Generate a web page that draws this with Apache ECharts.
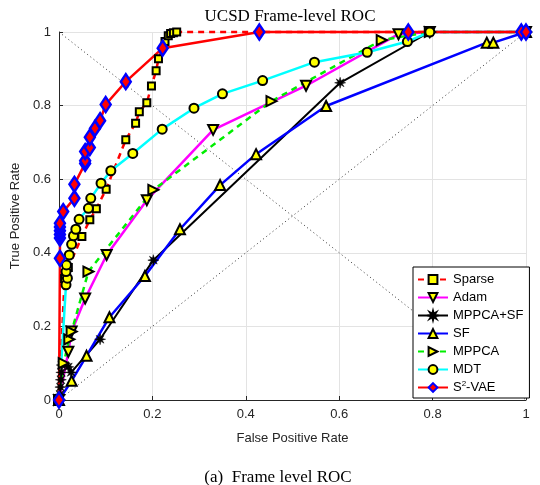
<!DOCTYPE html>
<html><head><meta charset="utf-8">
<script src="https://cdn.jsdelivr.net/npm/echarts@6/dist/echarts.min.js"></script>
<style>html,body{margin:0;padding:0;background:#fff}#c{width:540px;height:485px}</style>
</head><body><div id="c"></div>
<script>
const seriesNames = ['Sparse','Adam','MPPCA+SF','SF','MPPCA','MDT','S2-VAE'];
const xTicks = [0,0.2,0.4,0.6,0.8,1];
const sparse = [[0,0],[0.012,0.33],[0.02,0.36],[0.049,0.444],[0.066,0.49],[0.08,0.52],[0.101,0.573],[0.143,0.707],[0.164,0.752],[0.172,0.783],[0.188,0.808],[0.198,0.853],[0.208,0.895],[0.213,0.927],[0.227,0.974],[0.234,0.99],[0.239,0.996],[0.245,0.998],[0.252,1],[1,1]];
const adam = [[0,0],[0.02,0.131],[0.027,0.186],[0.056,0.276],[0.102,0.394],[0.188,0.543],[0.33,0.734],[0.529,0.854],[0.727,0.994],[0.794,1],[1,1]];
const mppcaSf = [[0,0],[0.002,0.015],[0.003,0.035],[0.004,0.055],[0.005,0.075],[0.006,0.095],[0.02,0.09],[0.026,0.075],[0.088,0.165],[0.202,0.38],[0.602,0.862],[0.794,1],[1,1]];
const sf = [[0,0],[0.027,0.052],[0.059,0.12],[0.108,0.225],[0.184,0.337],[0.259,0.464],[0.345,0.584],[0.422,0.668],[0.572,0.799],[0.916,0.971],[0.93,0.971],[1,1]];
const mppca = [[0,0],[0.01,0.1],[0.022,0.165],[0.027,0.186],[0.063,0.349],[0.202,0.571],[0.455,0.812],[0.691,0.978],[0.794,1],[1,1]];
const mdt = [[0,0],[0.015,0.313],[0.018,0.331],[0.015,0.349],[0.016,0.367],[0.022,0.394],[0.027,0.423],[0.031,0.446],[0.036,0.464],[0.043,0.491],[0.063,0.521],[0.068,0.548],[0.09,0.589],[0.111,0.623],[0.158,0.67],[0.221,0.736],[0.289,0.793],[0.35,0.832],[0.436,0.868],[0.547,0.918],[0.66,0.945],[0.746,0.974],[0.794,1],[1,1]];
const s2vae = [[0,0],[0.002,0.385],[0.002,0.44],[0.002,0.45],[0.002,0.46],[0.002,0.47],[0.002,0.48],[0.009,0.512],[0.033,0.548],[0.033,0.586],[0.056,0.643],[0.056,0.65],[0.056,0.675],[0.066,0.686],[0.066,0.714],[0.077,0.738],[0.088,0.759],[0.1,0.803],[0.143,0.865],[0.222,0.956],[0.429,1],[0.748,1],[0.99,1],[1,1]];
const diag1 = [[0,0],[1,1]];
const diag2 = [[0,1],[1,0]];

const chart = echarts.init(document.getElementById('c'), null, {renderer:'canvas'});
const mk = {color:'#ffff00', borderColor:'#000', borderWidth:2};
const star = 'path://M0,-10 L1.6,-3.8 L7.1,-7.1 L3.8,-1.6 L10,0 L3.8,1.6 L7.1,7.1 L1.6,3.8 L0,10 L-1.6,3.8 L-7.1,7.1 L-3.8,1.6 L-10,0 L-3.8,-1.6 L-7.1,-7.1 L-1.6,-3.8 Z';
function ser(name, data, color, lw, type, symbol, size, rot, item){
  return {name, type:'line', data, symbol, symbolSize:size, symbolRotate:rot||0,
    lineStyle:{color, width:lw, type}, itemStyle:item, showAllSymbol:true,
    emphasis:{disabled:true}, animation:false, clip:false, z:3};
}
const ff = '"Liberation Sans", Arial, sans-serif';
chart.setOption({
  animation:false,
  grid:{left:59, right:14, top:32, bottom:85, containLabel:false},
  xAxis:{type:'value', min:0, max:1, interval:0.2,
    axisLine:{show:true, lineStyle:{color:'#262626', width:1}},
    axisTick:{show:true, inside:true, length:4, lineStyle:{color:'#262626'}},
    splitLine:{show:true, lineStyle:{color:'#e3e3e3', width:1}},
    axisLabel:{color:'#262626', fontSize:13, fontFamily:ff, margin:8},
    name:'False Positive Rate', nameLocation:'middle', nameGap:32,
    nameTextStyle:{color:'#262626', fontSize:13, fontFamily:ff}},
  yAxis:{type:'value', min:0, max:1, interval:0.2,
    axisLine:{show:true, lineStyle:{color:'#262626', width:1}},
    axisTick:{show:true, inside:true, length:4, lineStyle:{color:'#262626'}},
    splitLine:{show:true, lineStyle:{color:'#e3e3e3', width:1}},
    axisLabel:{color:'#262626', fontSize:13, fontFamily:ff, margin:8},
    name:'True Positive Rate', nameLocation:'middle', nameGap:28,
    nameTextStyle:{color:'#262626', fontSize:13, fontFamily:ff}},
  legend:{orient:'vertical', left:413, top:267,
    backgroundColor:'#fff', borderColor:'#000', borderWidth:1, padding:[5,6,3,4],
    itemWidth:30, itemHeight:11, itemGap:3,
    data:seriesNames,
    textStyle:{fontSize:13, lineHeight:15, fontFamily:ff, color:'#000', rich:{sup:{fontSize:8, lineHeight:15, verticalAlign:'top', padding:[0,0,6,0], fontFamily:ff}}},
    formatter:function(n){ return n==='S2-VAE' ? 'S{sup|2}-VAE' : n; }},
  graphic:[
    {type:'text', x:290, y:17, style:{text:'UCSD Frame-level ROC', font:'17px "Liberation Serif", "Times New Roman", serif', fill:'#000', textAlign:'center', textVerticalAlign:'middle'}, z:10},
    {type:'text', x:278, y:478, style:{text:'(a)  Frame level ROC', font:'17px "Liberation Serif", "Times New Roman", serif', fill:'#000', textAlign:'center', textVerticalAlign:'middle'}}
  ],
  series:[
    {type:'line', data:diag1, symbol:'none', lineStyle:{color:'#333', width:1, type:[1,3]}, silent:true, z:1, animation:false},
    {type:'line', data:diag2, symbol:'none', lineStyle:{color:'#333', width:1, type:[1,3]}, silent:true, z:1, animation:false},
    ser('Sparse', sparse, '#ff0000', 2.5, [6,5], 'rect', 7, 0, mk),
    ser('Adam', adam, '#ff00ff', 2.5, 'solid', 'triangle', 10, 180, mk),
    ser('MPPCA+SF', mppcaSf, '#000000', 2, 'solid', star, 11, 0, {color:'#000', borderColor:'#000', borderWidth:0.5}),
    ser('SF', sf, '#0000ff', 2.5, 'solid', 'triangle', 10, 0, mk),
    ser('MPPCA', mppca, '#00ee00', 2.5, [6,5], 'triangle', 10, -90, mk),
    ser('MDT', mdt, '#00ffff', 2.5, 'solid', 'circle', 9, 0, mk),
    ser('S2-VAE', s2vae, '#ff0000', 2.5, 'solid', 'diamond', [10,15], 0, {color:'#ff0000', borderColor:'#0000ff', borderWidth:2.5})
  ]
});
</script></body></html>
